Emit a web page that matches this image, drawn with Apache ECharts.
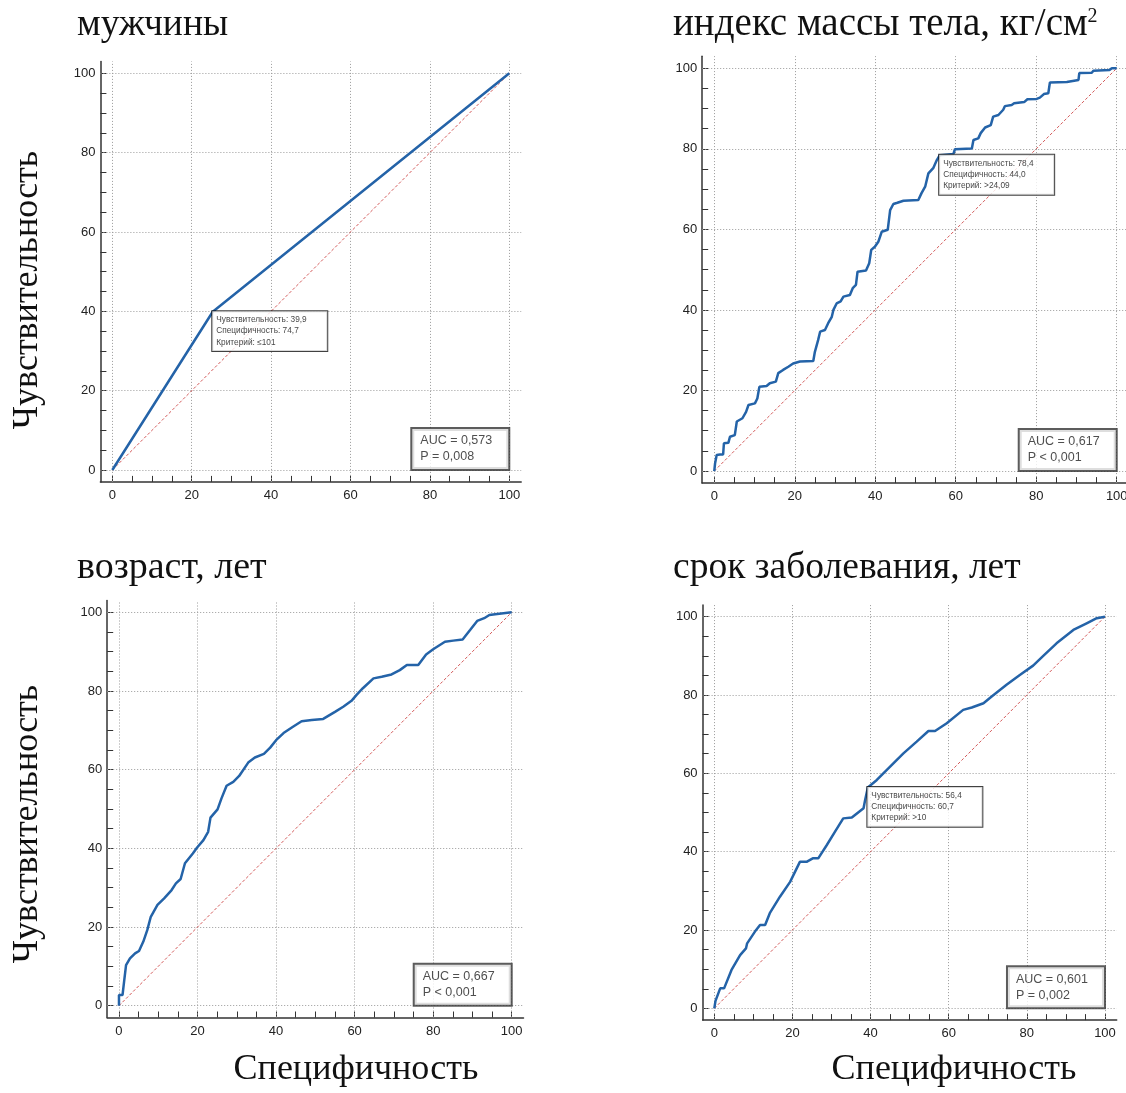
<!DOCTYPE html>
<html><head><meta charset="utf-8">
<script src="https://cdn.jsdelivr.net/npm/echarts@6/dist/echarts.min.js"></script>
<style>html,body{margin:0;padding:0;background:#fff}#c{width:1126px;height:1093px}</style>
</head><body><div id="c"></div>
<script>
// ---------- text ----------
const panelTitles = ['мужчины', 'индекс массы тела, кг/см', 'возраст, лет', 'срок заболевания, лет'];
const titleSup = ['', '2', '', ''];
const yTitle = 'Чувствительность';
const xTitle = 'Специфичность';

// ---------- axis ticks ----------
const labelTicks = [0, 20, 40, 60, 80, 100];
const minorTicks = [0, 5, 10, 15, 20, 25, 30, 35, 40, 45, 50, 55, 60, 65, 70, 75, 80, 85, 90, 95, 100];

// ---------- ROC curves: [100 - specificity, sensitivity] ----------
const malePoints = [[0, 0], [25.3, 39.9], [100, 100]];

const bmiPoints = [[0,0],[0.2,1.9],[0.6,4.0],[1.4,4.1],[2.2,4.1],[2.4,6.9],[3.5,7.0],[3.9,8.5],[5.1,8.9],[5.6,12.3],
  [7.0,13.1],[7.9,14.7],[8.5,16.4],[10.1,16.8],[10.7,18.0],[11.2,20.9],[13.0,21.1],[13.8,21.8],[15.3,22.2],[15.9,24.3],
  [17.1,25.1],[18.4,25.9],[19.6,26.7],[21.3,27.2],[24.6,27.3],[25.0,29.6],[25.8,32.5],[26.3,34.6],[27.5,35.0],[28.3,36.7],
  [29.2,38.3],[29.6,40.0],[30.4,41.6],[31.4,42.1],[32.1,43.3],[33.7,43.7],[34.4,45.4],[35.2,46.2],[35.6,49.5],[37.7,49.8],
  [38.5,51.6],[39.0,54.9],[39.9,55.7],[40.8,57.0],[41.6,59.4],[43.1,59.9],[43.7,64.8],[44.5,66.3],[45.5,66.6],[47.0,67.1],
  [50.7,67.3],[51.5,69.0],[52.4,70.6],[53.2,73.9],[54.4,75.2],[55.3,77.2],[56.0,78.4],[59.4,78.7],[59.8,79.9],[64.0,80.1],
  [64.4,82.2],[65.6,82.6],[66.2,83.9],[67.3,85.3],[68.7,85.9],[69.3,88.0],[70.6,88.4],[71.8,89.7],[72.2,90.6],[73.9,90.9],
  [74.5,91.3],[77.0,91.6],[77.8,92.3],[80.1,92.4],[80.9,92.7],[81.9,93.6],[83.0,93.8],[83.4,96.5],[87.6,96.6],[88.0,96.9],
  [90.5,97.1],[90.7,98.8],[93.8,98.9],[94.2,99.4],[98.2,99.6],[98.8,100],[100,100]];

const agePoints = [[0,0],[0,2.7],[0.9,2.7],[1.3,6.1],[1.8,10.3],[2.8,12.0],[4.1,13.3],[5.1,13.9],[6.2,16.3],[7.2,19.2],
  [8.1,22.6],[9.8,25.6],[11.5,27.3],[13.4,29.4],[14.5,31.1],[15.7,32.2],[16.8,36.2],[18.8,38.7],[19.9,40.2],[21.5,42.1],
  [22.7,44.2],[23.3,47.8],[25.1,49.9],[26.1,52.7],[27.4,55.9],[29.1,56.9],[30.6,58.4],[32.9,61.8],[34.6,63.1],[36.9,64.0],
  [38.5,65.6],[40.0,67.5],[41.9,69.3],[44.3,70.9],[46.5,72.3],[49.1,72.6],[52.0,72.9],[55.0,74.7],[57.1,76.0],[59.2,77.5],
  [60.5,79.0],[62.1,80.7],[64.8,83.2],[66.9,83.6],[69.4,84.2],[71.5,85.3],[73.3,86.6],[76.2,86.6],[78.2,89.3],[80.0,90.6],
  [83.0,92.5],[85.1,92.8],[87.5,93.1],[89.4,95.5],[91.2,97.8],[93.0,98.5],[94.3,99.3],[95.8,99.5],[96.2,100],[100,100]];

const durPoints = [[0,0],[0.3,1.9],[1.5,5.1],[2.5,5.1],[4.4,9.8],[6.6,13.6],[8.1,15.3],[8.4,16.6],[10.4,19.6],[11.7,21.3],
  [13.0,21.3],[14.2,24.3],[16.8,28.5],[19.4,32.3],[21.9,37.4],[23.6,37.4],[25.2,38.3],[26.6,38.3],[28.8,41.7],[30.9,45.1],
  [33.0,48.5],[35.2,48.7],[38.2,51.1],[38.6,53.2],[39.3,56.4],[41.6,58.3],[45.0,61.7],[48.4,65.1],[51.8,68.1],[54.8,70.8],
  [56.5,70.8],[59.5,72.8],[63.7,76.2],[65.9,76.8],[68.9,77.9],[71.0,79.6],[74.8,82.6],[78.2,85.1],[81.6,87.5],[84.2,90.0],
  [87.6,93.2],[91.9,96.6],[95.3,98.3],[97.9,99.6],[100,100]];

const diagonal = [[0, 0], [100, 100]];

// ---------- optimal cut-off annotations ----------
const cutSens = [39.9, 78.4, null, 56.4];
const cutSpec = [74.7, 44.0, null, 60.7];
const cutCrit = ['≤101', '>24,09', null, '>10'];

// ---------- AUC boxes ----------
const aucValues = ['0,573', '0,617', '0,667', '0,601'];
const pValues = ['P = 0,008', 'P < 0,001', 'P < 0,001', 'P = 0,002'];

const curves = [malePoints, bmiPoints, agePoints, durPoints];

// ---------- layout (pixels) ----------
const gridBoxes = [
  {left: 100.4, top: 61.4, width: 420.8, height: 420.5},
  {left: 702.2, top: 56.2, width: 426.6, height: 426.9},
  {left: 107.2, top: 600.5, width: 416.3, height: 417},
  {left: 702.6, top: 604.9, width: 414.1, height: 415.2}
];
const AX_MIN = -3, AX_MAX = 103;
const SANS = '"Liberation Sans", Arial, sans-serif';
const SERIF = '"Liberation Serif", "Times New Roman", serif';
const fmt = v => v.toFixed(1).replace('.', ',');

const grids = [], xAxes = [], yAxes = [], series = [];
gridBoxes.forEach((g, i) => {
  grids.push(Object.assign({containLabel: false, outerBoundsMode: 'none'}, g));
  const common = {
    gridIndex: i, type: 'value', min: AX_MIN, max: AX_MAX,
    axisLine: {show: true, onZero: false, lineStyle: {color: '#333', width: 1.5}},
    axisTick: {show: true, inside: true, length: 6, customValues: minorTicks, lineStyle: {color: '#333', width: 1}},
    splitLine: {show: false},
    minorTick: {show: false}
  };
  xAxes.push(Object.assign({}, common, {
    axisLabel: {customValues: labelTicks, margin: 7, color: '#222', fontFamily: SANS, fontSize: 13}
  }));
  yAxes.push(Object.assign({}, common, {
    axisLabel: {customValues: labelTicks, margin: 5, color: '#222', fontFamily: SANS, fontSize: 13}
  }));

  // diagonal + dotted grid lines
  series.push({
    type: 'line', xAxisIndex: i, yAxisIndex: i, data: diagonal, showSymbol: false, silent: true, z: 2,
    lineStyle: {color: '#d45a5a', width: 1, type: [3, 2]},
    markLine: {
      silent: true, symbol: ['none', 'none'], z: 1, animation: false,
      label: {show: false},
      lineStyle: {color: '#9a9a9a', width: 1, type: [1, 2]},
      emphasis: {disabled: true},
      data: labelTicks.map(v => ({xAxis: v})).concat(labelTicks.map(v => ({yAxis: v})))
    }
  });
  // ROC curve
  series.push({
    type: 'line', xAxisIndex: i, yAxisIndex: i, data: curves[i], showSymbol: false, silent: true, z: 3,
    lineStyle: {color: '#2463a8', width: 2.5}
  });
  // cut-off annotation
  if (cutSens[i] != null) {
    series.push({
      type: 'scatter', xAxisIndex: i, yAxisIndex: i, z: 6, silent: true,
      data: [[100 - cutSpec[i], cutSens[i]]], symbolSize: 1, itemStyle: {color: 'transparent'},
      label: {
        show: true, position: [0, 0], align: 'left', verticalAlign: 'top',
        formatter: 'Чувствительность: ' + fmt(cutSens[i]) + '\nСпецифичность: ' + fmt(cutSpec[i]) + '\nКритерий: ' + cutCrit[i],
        fontFamily: SANS, fontSize: 8.3, lineHeight: 11.3, color: '#111',
        backgroundColor: '#fff', borderColor: '#111', borderWidth: 1,
        padding: [3, 4, 3, 4], width: 107
      }
    });
  }
  // AUC box
  series.push({
    type: 'scatter', xAxisIndex: i, yAxisIndex: i, z: 6, silent: true,
    data: [[100, 0]], symbolSize: 1, itemStyle: {color: 'transparent'},
    label: {
      show: true, position: [-96.5, -40.5], align: 'left', verticalAlign: 'top',
      formatter: 'AUC = ' + aucValues[i] + '\n' + pValues[i],
      fontFamily: SANS, fontSize: 12.5, lineHeight: 16, color: '#222',
      backgroundColor: '#fff', borderColor: '#333', borderWidth: 2,
      padding: [4, 8, 4, 8], width: 80
    }
  });
});

const graphic = [];
const titlePos = [[77, 7], [673, 7], [77, 550], [673, 550]];
const titleSize = [37.5, 39, 38, 37.5];
panelTitles.forEach((t, i) => {
  graphic.push({
    type: 'text', x: titlePos[i][0], y: titlePos[i][1], silent: true,
    style: {
      text: titleSup[i] ? t + '{sup|' + titleSup[i] + '}' : t,
      font: titleSize[i] + 'px ' + SERIF, fill: '#111', align: 'left', verticalAlign: 'top', lineHeight: 36,
      rich: {sup: {fontSize: 20, fontFamily: SERIF, lineHeight: 4, verticalAlign: 'top', fill: '#111'}}
    }
  });
});
[[28, 290], [28, 824]].forEach(p => {
  graphic.push({
    type: 'text', x: p[0], y: p[1], rotation: Math.PI / 2, silent: true,
    style: {text: yTitle, font: '36px ' + SERIF, fill: '#111', align: 'center', verticalAlign: 'middle', lineHeight: 36}
  });
});
[[356, 1070], [954, 1070]].forEach(p => {
  graphic.push({
    type: 'text', x: p[0], y: p[1], silent: true,
    style: {text: xTitle, font: '36px ' + SERIF, fill: '#111', align: 'center', verticalAlign: 'middle', lineHeight: 36}
  });
});

const chart = echarts.init(document.getElementById('c'));
chart.setOption({
  animation: false,
  backgroundColor: '#fff',
  grid: grids, xAxis: xAxes, yAxis: yAxes, series: series, graphic: graphic
});
</script>
</body></html>
